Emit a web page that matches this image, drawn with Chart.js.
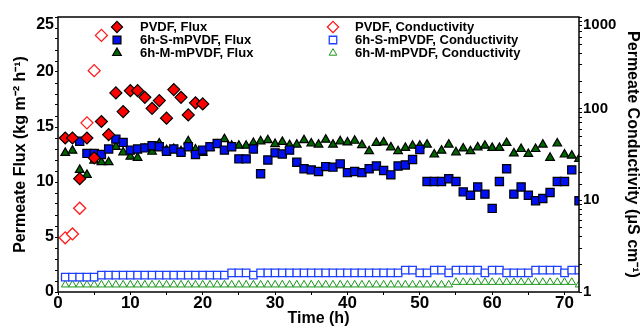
<!DOCTYPE html>
<html>
<head>
<meta charset="utf-8">
<script src="https://cdn.jsdelivr.net/npm/chart.js@4.4.1/dist/chart.umd.min.js"></script>
<style>
  html, body { margin: 0; padding: 0; background: #fff; }
</style>
</head>
<body>
<canvas id="fluxChart" width="640" height="326"></canvas>
<script>
// time axis (h)
const hours = [1, 2, 3, 4, 5, 6, 7, 8, 9, 10, 11, 12, 13, 14, 15, 16, 17, 18, 19, 20,
    21, 22, 23, 24, 25, 26, 27, 28, 29, 30, 31, 32, 33, 34, 35, 36, 37, 38, 39, 40,
    41, 42, 43, 44, 45, 46, 47, 48, 49, 50, 51, 52, 53, 54, 55, 56, 57, 58, 59, 60,
    61, 62, 63, 64, 65, 66, 67, 68, 69, 70, 71, 72];

const seriesNames = ['PVDF, Flux', '6h-S-mPVDF, Flux', '6h-M-mPVDF, Flux',
    'PVDF, Conductivity', '6h-S-mPVDF, Conductivity', '6h-M-mPVDF, Conductivity'];

// flux, kg m-2 h-1 (PVDF only measured for the first 20 h)
const pvdfFlux = [14.0, 14.0, 10.3, 14.0, 12.2, 15.5, 14.3, 18.1, 16.4, 18.3,
    18.3, 17.7, 16.7, 17.4, 15.8, 18.4, 17.7, 16.1, 17.2, 17.1];
const sFlux = [null, null, 13.7, 12.6, 12.6, 12.5, 13.0, 13.9, 13.6, 12.9,
    13.0, 13.1, 13.3, 13.2, 12.8, 13.0, 12.7, 13.2, 12.5, 12.9,
    13.2, 13.5, 12.9, 13.2, 12.1, 12.1, 13.0, 10.75, 12.0, 12.65,
    12.55, 12.9, 11.8, 11.2, 11.1, 10.95, 11.4, 11.35, 11.65, 10.85,
    10.95, 10.85, 11.2, 11.45, 11.05, 10.65, 11.45, 11.55, 12.05, 12.95,
    10.05, 10.05, 10.05, 10.3, 10.05, 9.1, 8.8, 9.55, 8.9, 7.6,
    10.05, 11.2, 8.9, 9.55, 8.8, 8.3, 8.5, 9.05, 10.05, 10.05,
    11.1, 8.3];
const mFlux = [12.65, 12.85, 11.1, 10.65, 11.95, 11.8, 11.8, 13.2, 12.7, 12.3,
    12.2, 13.0, 12.75, 13.5, 12.9, 13.0, 12.8, 13.7, 12.95, 12.65,
    13.1, 13.4, 13.9, 13.3, 13.3, 13.3, 13.55, 13.7, 13.8, 13.45,
    13.65, 13.35, 13.4, 13.8, 13.5, 13.4, 13.85, 13.4, 13.7, 13.6,
    13.75, 13.35, 12.8, 13.55, 13.6, 13.15, 12.8, 13.1, 13.3, 13.3,
    13.4, 12.5, 12.85, 13.4, 12.7, 13.05, 12.8, 13.15, 13.3, 13.1,
    13.1, 13.55, 12.6, 13.0, 12.55, 13.0, 13.4, 12.2, 13.5, 12.5,
    12.4, 12.1];

// permeate conductivity, uS cm-1 (log axis)
const pvdfCond = [3.9, 4.3, 8.2, 70, 260, 630];
const sCond = [1.45, 1.45, 1.45, 1.45, 1.45, 1.53, 1.53, 1.53, 1.53, 1.53,
    1.53, 1.53, 1.53, 1.53, 1.53, 1.53, 1.53, 1.53, 1.53, 1.53,
    1.53, 1.53, 1.53, 1.62, 1.62, 1.62, 1.53, 1.62, 1.62, 1.62,
    1.62, 1.62, 1.62, 1.62, 1.62, 1.62, 1.62, 1.62, 1.62, 1.62,
    1.62, 1.62, 1.62, 1.62, 1.62, 1.62, 1.62, 1.73, 1.73, 1.62,
    1.62, 1.73, 1.73, 1.62, 1.73, 1.73, 1.73, 1.73, 1.62, 1.73,
    1.73, 1.62, 1.62, 1.62, 1.62, 1.73, 1.73, 1.73, 1.73, 1.62,
    1.73, 1.73];
const mCond = [1.2, 1.2, 1.2, 1.2, 1.2, 1.2, 1.2, 1.2, 1.2, 1.2,
    1.2, 1.2, 1.2, 1.2, 1.2, 1.2, 1.2, 1.2, 1.2, 1.2,
    1.2, 1.2, 1.2, 1.2, 1.2, 1.2, 1.2, 1.2, 1.2, 1.2,
    1.2, 1.2, 1.2, 1.2, 1.2, 1.2, 1.2, 1.2, 1.2, 1.2,
    1.2, 1.2, 1.2, 1.2, 1.2, 1.2, 1.2, 1.2, 1.2, 1.2,
    1.2, 1.2, 1.2, 1.2, 1.28, 1.28, 1.28, 1.28, 1.28, 1.28,
    1.28, 1.28, 1.28, 1.28, 1.28, 1.28, 1.28, 1.28, 1.28, 1.28,
    1.28, 1.2];

const fluxTicks = [0, 5, 10, 15, 20, 25];
const timeTicks = [0, 10, 20, 30, 40, 50, 60, 70];
const condTicks = [1, 10, 100, 1000];

const toPoints = (vals) => hours.slice(0, vals.length)
    .map((h, i) => ({ x: h, y: vals[i] }))
    .filter(p => p.y !== null);

const FONT = "'Liberation Sans', Arial, sans-serif";
Chart.defaults.font.family = FONT;
Chart.defaults.font.weight = 'bold';
Chart.defaults.color = '#000';

function drawMarker(ctx, style, x, y, r) {
    ctx.beginPath();
    if (style === 'rectRot') {
        ctx.moveTo(x, y - r); ctx.lineTo(x + r, y); ctx.lineTo(x, y + r); ctx.lineTo(x - r, y);
    } else if (style === 'rect') {
        const h = r * Math.SQRT1_2;
        ctx.rect(x - h, y - h, 2 * h, 2 * h);
    } else {
        ctx.moveTo(x, y - r); ctx.lineTo(x + r * 0.866, y + r / 2); ctx.lineTo(x - r * 0.866, y + r / 2);
    }
    ctx.closePath();
    ctx.fill();
    ctx.stroke();
}

// box round the plot area
const framePlugin = {
    id: 'frame',
    afterDraw(chart) {
        const { ctx, chartArea: a } = chart;
        ctx.save();
        ctx.strokeStyle = '#000';
        ctx.lineWidth = 1.5;
        ctx.strokeRect(a.left, a.top, a.right - a.left, a.bottom - a.top);
        ctx.restore();
    }
};

// two-column legend in the top of the plot
const legendRows = [27, 40, 53];
const legendCols = [{ marker: 117, text: 140 }, { marker: 333, text: 355 }];
const legendPlugin = {
    id: 'cornerLegend',
    afterDraw(chart) {
        const ctx = chart.ctx;
        ctx.save();
        chart.data.datasets.forEach((ds, i) => {
            const col = legendCols[i < 3 ? 0 : 1];
            const y = legendRows[i % 3];
            ctx.fillStyle = ds.pointBackgroundColor;
            ctx.strokeStyle = ds.pointBorderColor;
            ctx.lineWidth = ds.pointBorderWidth;
            drawMarker(ctx, ds.pointStyle, col.marker, y, Math.min(ds.pointRadius, 5.6));
            ctx.fillStyle = '#000';
            ctx.font = 'bold 13px ' + FONT;
            ctx.textBaseline = 'middle';
            ctx.textAlign = 'left';
            ctx.fillText(ds.label, col.text, y);
        });
        ctx.restore();
    }
};

const ctx = document.getElementById('fluxChart').getContext('2d');
const fluxChart = new Chart(ctx, {
    type: 'scatter',
    data: {
        datasets: [{
            label: seriesNames[0],
            data: toPoints(pvdfFlux),
            yAxisID: 'y',
            pointStyle: 'rectRot',
            pointRadius: 6,
            pointBackgroundColor: '#ff0000',
            pointBorderColor: '#000',
            pointBorderWidth: 1.2
        }, {
            label: seriesNames[1],
            data: toPoints(sFlux),
            yAxisID: 'y',
            pointStyle: 'rect',
            pointRadius: 5.8,
            pointBackgroundColor: '#0010f0',
            pointBorderColor: '#000',
            pointBorderWidth: 1.2
        }, {
            label: seriesNames[2],
            data: toPoints(mFlux),
            yAxisID: 'y',
            pointStyle: 'triangle',
            pointRadius: 5,
            pointBackgroundColor: '#006400',
            pointBorderColor: '#000',
            pointBorderWidth: 1.2
        }, {
            label: seriesNames[3],
            data: toPoints(pvdfCond),
            yAxisID: 'y2',
            pointStyle: 'rectRot',
            pointRadius: 6,
            pointBackgroundColor: '#fff',
            pointBorderColor: '#ff1a1a',
            pointBorderWidth: 1.3
        }, {
            label: seriesNames[4],
            data: toPoints(sCond),
            yAxisID: 'y2',
            pointStyle: 'rect',
            pointRadius: 5.3,
            pointBackgroundColor: '#fff',
            pointBorderColor: '#2040ff',
            pointBorderWidth: 1.3
        }, {
            label: seriesNames[5],
            data: toPoints(mCond),
            yAxisID: 'y2',
            pointStyle: 'triangle',
            pointRadius: 4.4,
            pointBackgroundColor: '#fff',
            pointBorderColor: '#1a961a',
            pointBorderWidth: 1
        }]
    },
    options: {
        responsive: false,
        animation: false,
        events: [],
        layout: { padding: { top: 16, left: 0, right: 0, bottom: 0 } },
        plugins: {
            legend: { display: false },
            tooltip: { enabled: false }
        },
        scales: {
            x: {
                type: 'linear',
                position: 'bottom',
                min: 0,
                max: 72,
                afterFit: (scale) => { scale.height = 34; },
                border: { display: false },
                grid: { drawOnChartArea: false, tickLength: 3, color: '#000' },
                ticks: {
                    stepSize: 5,
                    includeBounds: false,
                    autoSkip: false,
                    maxRotation: 0,
                    padding: 0,
                    font: { size: 17, weight: 'bold', lineHeight: 1 },
                    callback: (v) => timeTicks.includes(v) ? String(v) : ''
                },
                title: {
                    display: true,
                    text: 'Time (h)',
                    padding: { top: 0, bottom: -1 },
                    font: { size: 16, weight: 'bold', lineHeight: 1 }
                }
            },
            y: {
                type: 'linear',
                position: 'left',
                min: 0,
                max: 25,
                afterFit: (scale) => { scale.width = 58; },
                border: { display: false },
                grid: { drawOnChartArea: false, tickLength: 3, color: '#000' },
                ticks: {
                    stepSize: 1,
                    autoSkip: false,
                    padding: 1,
                    font: { size: 16, weight: 'bold', lineHeight: 1 },
                    callback: (v) => fluxTicks.includes(v) ? (v === 25 ? ['', '25'] : String(v)) : ''
                },
                title: {
                    display: true,
                    text: 'Permeate Flux (kg m\u207B\u00B2 h\u207B\u00B9)',
                    padding: { top: 13, bottom: 0 },
                    font: { size: 16, weight: 'bold', lineHeight: 1 }
                }
            },
            y2: {
                type: 'logarithmic',
                position: 'right',
                min: 1,
                max: 1000,
                afterFit: (scale) => { scale.width = 61; },
                border: { display: false },
                grid: { drawOnChartArea: false, tickLength: 3, color: '#000' },
                ticks: {
                    autoSkip: false,
                    padding: 1,
                    font: { size: 15, weight: 'bold', lineHeight: 1 },
                    callback: (v) => condTicks.includes(v) ? (v === 1000 ? ['', '1000'] : String(v)) : ''
                },
                title: {
                    display: true,
                    text: 'Permeate Conductivity (\u03BCS cm\u207B\u00B9)',
                    padding: { top: 0, bottom: 0 },
                    font: { size: 16, weight: 'bold', lineHeight: 1 }
                }
            }
        }
    },
    plugins: [framePlugin, legendPlugin]
});
</script>
</body>
</html>
